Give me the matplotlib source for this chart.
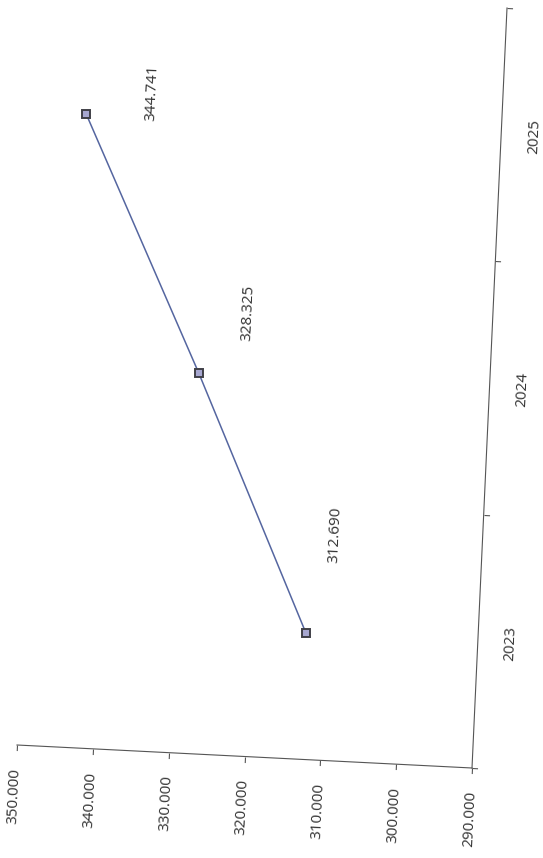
import numpy as np
import matplotlib
matplotlib.use("Agg")
import matplotlib.pyplot as plt
from matplotlib.transforms import Affine2D
import mpl_toolkits.axisartist.floating_axes as floating_axes
from mpl_toolkits.axisartist.grid_finder import FixedLocator, DictFormatter

years = ["2023", "2024", "2025"]
values = [312690, 328325, 344741]
value_ticks = [290000, 300000, 310000, 320000, 330000, 340000, 350000]
v_min, v_max = 290000, 350000

# data labels were dragged by hand in the original, offsets in pixels
label_offsets = [(29, 98), (49, 60), (66, 21)]


def fmt(v):
    return f"{v:,.0f}".replace(",", ".")


W, H = 543, 858
plt.rcParams["font.family"] = ["Open Sans", "DejaVu Sans"]
fig = plt.figure(figsize=(W / 100, H / 100), dpi=100)

# the page was scanned on its side: categories run up the right edge,
# values run right-to-left along the bottom, a few degrees off square
n = len(years)
cat_step = np.array([35.0, 760.0]) / n
val_step = np.array([-455.0, 23.0]) / (v_max - v_min)
origin = np.array([472.0, H - 768.0])

mtx = np.array([[cat_step[0], val_step[0], 0],
                [cat_step[1], val_step[1], 0],
                [0, 0, 1]])
tr = Affine2D().translate(0.5, -v_min) + Affine2D(mtx) + Affine2D().translate(*origin)

grid_helper = floating_axes.GridHelperCurveLinear(
    tr, extremes=(-0.5, n - 0.5, v_min, v_max),
    grid_locator1=FixedLocator(list(np.arange(n + 1) - 0.5)),
    tick_formatter1=DictFormatter({}),
    grid_locator2=FixedLocator(value_ticks),
    tick_formatter2=DictFormatter({}))

ax = fig.add_subplot(axes_class=floating_axes.FloatingAxes, grid_helper=grid_helper)
x0, x1 = ax.get_xlim()
y0, y1 = ax.get_ylim()
ax.set_position([x0 / W, y0 / H, (x1 - x0) / W, (y1 - y0) / H])
ax.patch.set_facecolor("none")

ax.axis["right"].set_visible(False)
ax.axis["top"].set_visible(False)
for side in ("left", "bottom"):
    ax.axis[side].line.set_color("#555555")
    ax.axis[side].line.set_linewidth(0.8)
    ax.axis[side].major_ticks.set_tick_out(True)
    ax.axis[side].major_ticks.set_ticksize(4)
    ax.axis[side].major_ticks.set_color("#555555")

aux = ax.get_aux_axes(tr)
aux.plot(range(n), values, color="#5566a0", lw=1.1, marker="s", ms=6,
         mfc="#a7a7d0", mec="#404048", mew=1.4)

rot = np.degrees(np.arctan2(cat_step[1], cat_step[0]))
text_kw = dict(textcoords="offset pixels", rotation=rot, rotation_mode="anchor",
               fontsize=11, color="#333333", annotation_clip=False)

# value tick labels hang below the value axis, reading upwards
out_val = -cat_step / np.hypot(*cat_step)
for v in value_ticks:
    aux.annotate(fmt(v), (-0.5, v), xytext=tuple(out_val * 23),
                 ha="right", va="center", **text_kw)

# category labels sit to the right of the category axis
out_cat = -val_step / np.hypot(*val_step)
for i, y in enumerate(years):
    aux.annotate(y, (i, v_min), xytext=tuple(out_cat * 33),
                 ha="center", va="center", **text_kw)

for i, (v, (dx, dy)) in enumerate(zip(values, label_offsets)):
    aux.annotate(fmt(v), (i, v), xytext=(dx, dy), ha="center", va="center", **text_kw)

fig.savefig("out.png", dpi=100, facecolor="white")
